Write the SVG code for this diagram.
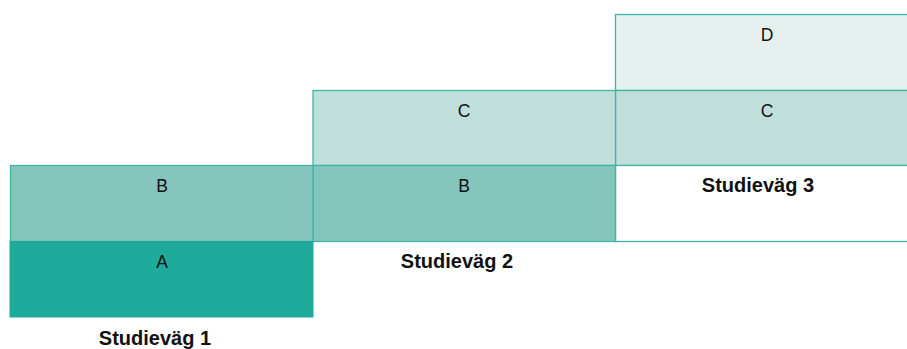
<svg xmlns="http://www.w3.org/2000/svg" width="907" height="349" viewBox="0 0 907 349">
<style>
.box{stroke:#3db5a7;stroke-width:1.3}
.l{font-family:"Liberation Sans",Arial,sans-serif;font-size:17.5px;fill:#111;text-anchor:middle}
.t{font-family:"Liberation Sans",Arial,sans-serif;font-size:20px;font-weight:bold;fill:#111;text-anchor:middle}
</style>
<rect width="907" height="349" fill="#fff"/>
<g id="col3">
<g id="D"><rect class="box" x="615.5" y="14.5" width="303" height="76" fill="#e6f1ef"/><text class="l" x="767" y="40.5">D</text></g>
<g id="C3"><rect class="box" x="615.5" y="90.5" width="303" height="75" fill="#c0dfda"/><text class="l" x="767" y="116.5">C</text></g>
<g id="S3"><rect class="box" x="615.5" y="165.5" width="303" height="76" fill="#fff"/><text class="t" x="758" y="192">Studieväg 3</text></g>
</g>
<g id="col2">
<g id="C2"><rect class="box" x="313" y="90.5" width="302.5" height="75" fill="#c0dfda"/><text class="l" x="464" y="116.5">C</text></g>
<g id="B2"><rect class="box" x="313" y="165.5" width="302.5" height="76" fill="#86c5bb"/><text class="l" x="464" y="191.5">B</text></g>
<g id="S2"><text class="t" x="457" y="268">Studieväg 2</text></g>
</g>
<g id="col1">
<g id="B1"><rect class="box" x="10.5" y="165.5" width="302.5" height="76" fill="#86c5bb"/><text class="l" x="162" y="191.5">B</text></g>
<g id="A"><rect x="10" y="241.5" width="303" height="75.5" fill="#1eab9c" stroke="#1eab9c" stroke-width="1"/><text class="l" x="162" y="268">A</text></g>
<g id="S1"><text class="t" x="155" y="345">Studieväg 1</text></g>
</g>
<g id="connectors"/>
</svg>
